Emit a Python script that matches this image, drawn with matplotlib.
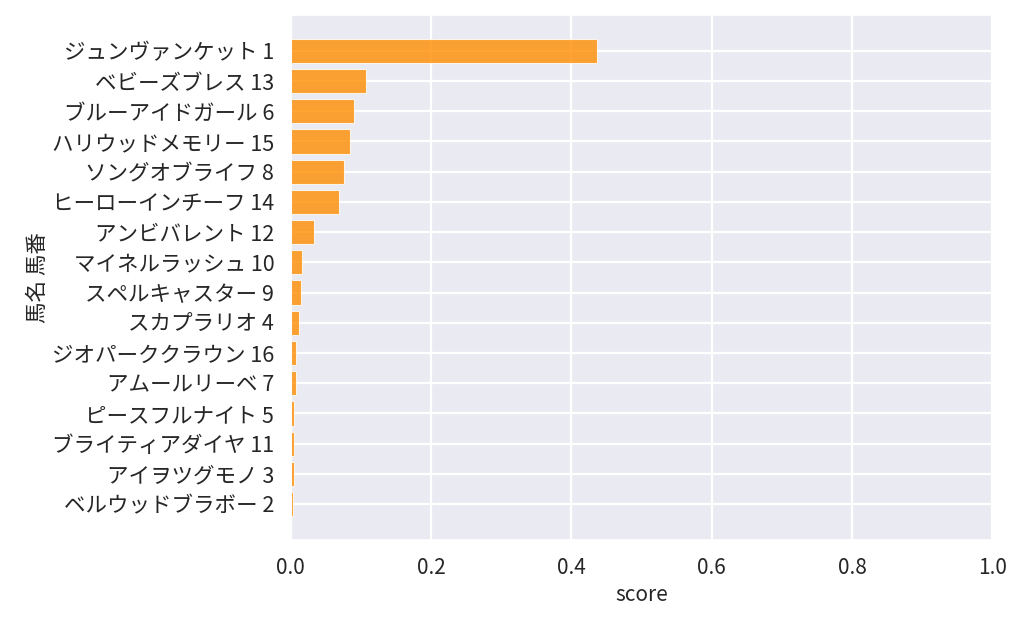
import numpy as np
import matplotlib
matplotlib.use('Agg')
import matplotlib.pyplot as plt
import seaborn as sns

# Horse names + numbers, top to bottom
labels = ['ジュンヴァンケット 1', 'ベビーズブレス 13', 'ブルーアイドガール 6', 'ハリウッドメモリー 15',
          'ソングオブライフ 8', 'ヒーローインチーフ 14', 'アンビバレント 12', 'マイネルラッシュ 10',
          'スペルキャスター 9', 'スカプラリオ 4', 'ジオパーククラウン 16', 'アムールリーベ 7',
          'ピースフルナイト 5', 'ブライティアダイヤ 11', 'アイヲツグモノ 3', 'ベルウッドブラボー 2']
scores = [0.437, 0.107, 0.090, 0.085, 0.076, 0.069, 0.033, 0.016,
          0.014, 0.011, 0.008, 0.008, 0.005, 0.004, 0.004, 0.003]

sns.set_theme(style='darkgrid', font_scale=1.3, rc={'grid.linewidth': 1.6})
plt.rcParams['font.family'] = ['Noto Sans CJK JP', 'DejaVu Sans']

fig, ax = plt.subplots(figsize=(10.24, 6.2), dpi=100)
fig.subplots_adjust(left=0.284, right=0.969, top=0.976, bottom=0.129)

ax.barh(labels, scores, height=0.8, color='darkorange', alpha=0.8,
        edgecolor='white', linewidth=0.8)
ax.invert_yaxis()
ax.set_xlim(0, 1)
ax.set_xlabel('score', fontsize=15, labelpad=4)
ax.set_ylabel('馬名 馬番', fontsize=15.5, labelpad=2)
ax.tick_params(axis='y', labelsize=15.5, pad=6)
ax.tick_params(axis='x', labelsize=15, pad=6)

fig.savefig('out.png')
